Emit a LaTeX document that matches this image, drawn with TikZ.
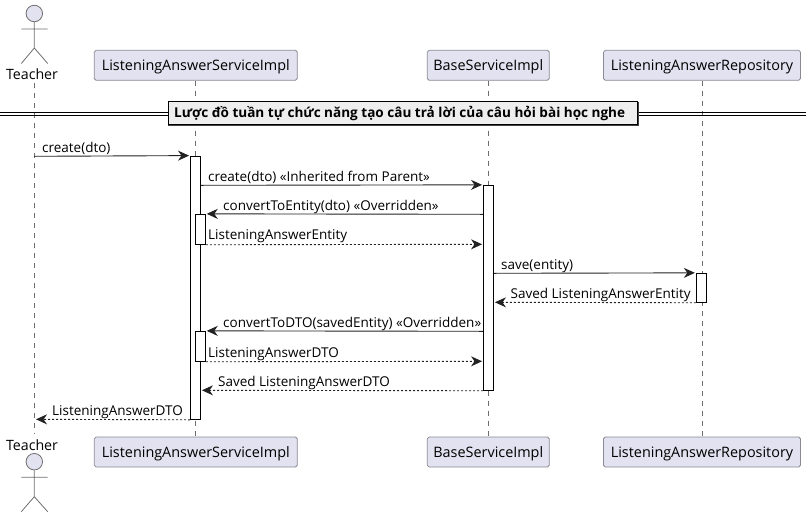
\documentclass[tikz,border=0pt]{standalone}
\usepackage{fontspec}
\setmainfont{Open Sans}
\usetikzlibrary{arrows.meta}
\definecolor{partfill}{HTML}{E2E2F0}
\definecolor{partline}{HTML}{8A8A94}
\definecolor{lifeline}{HTML}{6E6E6E}
\definecolor{titlefill}{HTML}{EEEEEE}
\definecolor{arrowink}{HTML}{222222}
\tikzset{
	part/.style={draw=partline, fill=partfill, rounded corners=1.8pt, line width=0.8pt, minimum height=30pt, inner sep=0pt, text height=11pt, text depth=0pt, text=black, font=\fontsize{14.4}{16}\selectfont},
	life/.style={draw=lifeline, line width=0.7pt, dash pattern=on 5pt off 5pt},
	stick/.style={draw=lifeline, line width=0.8pt},
	actorname/.style={inner sep=0pt, text height=11pt, text depth=0pt, text=black, font=\fontsize{14.2}{16}\selectfont},
	bar/.style={draw=black, fill=white, line width=0.9pt, minimum width=10pt, inner sep=0pt},
	msg/.style={draw=arrowink, line width=0.9pt, shorten >=1pt, -{Stealth[length=11pt,width=10pt,inset=3.5pt]}},
	reply/.style={msg, dash pattern=on 2pt off 2pt},
	msglabel/.style={anchor=base west, inner sep=0pt, text=black, font=\fontsize{13.5}{15}\selectfont},
}
\begin{document}
\begin{tikzpicture}[x=1pt,y=-1pt]
	\useasboundingbox (0,0) rectangle (811,517);

	% participants
	\node [part, minimum width=203pt] (serviceTop) at (195.8,65.3) {ListeningAnswerServiceImpl};
	\node [part, minimum width=122pt] (baseTop) at (488.3,65.3) {BaseServiceImpl};
	\node [part, minimum width=197pt] (repoTop) at (702,65.3) {ListeningAnswerRepository};
	\node [part, minimum width=203pt] (serviceBot) at (195.8,452) {ListeningAnswerServiceImpl};
	\node [part, minimum width=122pt] (baseBot) at (488.3,452) {BaseServiceImpl};
	\node [part, minimum width=197pt] (repoBot) at (702,452) {ListeningAnswerRepository};
	\node [actorname] (teacherTop) at (32,73.6) {Teacher};
	\node [actorname] (teacherBot) at (32,444.6) {Teacher};

	% lifelines
	\coordinate (lifeTop) at (34.3,83);
	\coordinate (lifeBot) at (34.3,434);
	\draw [life] (lifeTop) -- (lifeBot);
	\draw [life] (serviceTop) -- (serviceBot);
	\draw [life] (baseTop) -- (baseBot);
	\draw [life] (repoTop) -- (repoBot);

	% stick figures
	\node [circle, draw=lifeline, fill=partfill, line width=0.8pt, minimum size=16.5pt, inner sep=0pt] (headTop) at (34.3,13.5) {};
	\draw [stick] (headTop.south) -- (34.3,48) (21.3,29) -- (47.7,29) (21.3,63.5) -- (34.3,48) -- (47.7,63.5);
	\node [circle, draw=lifeline, fill=partfill, line width=0.8pt, minimum size=16.5pt, inner sep=0pt] (headBot) at (34.3,461.7) {};
	\draw [stick] (headBot.south) -- (34.3,496.7) (21.3,477.3) -- (47.7,477.3) (21.3,511.7) -- (34.3,496.7) -- (47.7,511.7);

	% divider
	\draw [black, line width=0.9pt] (0,112.6) -- (806,112.6) (0,115.8) -- (806,115.8);
	\draw [black!75, line width=1.6pt] (169.2,102.8) rectangle (638.5,125);
	\node [draw=black, fill=titlefill, line width=1.3pt, minimum width=469pt, minimum height=23pt, inner sep=0pt, text height=9.4pt, text depth=0pt, font=\bfseries\fontsize{13.55}{15}\selectfont] (title) at (402.7,113) {\hspace*{-6pt}Lược đồ tuần tự chức năng tạo câu trả lời của câu hỏi bài học nghe};

	% activations
	\node [bar, minimum height=263.3pt] (serviceBar) at (195.5,287.7) {};
	\node [bar, minimum height=205pt] (baseBar) at (488.5,287.8) {};
	\node [bar, minimum height=29pt] (repoBar) at (701.3,287.8) {};
	\node [bar, minimum height=30pt] (entityBar) at (200.3,229.3) {};
	\node [bar, minimum height=30pt] (dtoBar) at (200.3,346.3) {};

	% messages
	\coordinate (t1) at (34.3,156.3);
	\coordinate (t10) at (35,419.3);
	\draw [msg] (t1) -- (serviceBar.north west);
	\draw [msg] (serviceBar.east |- 0,185.3) -- (baseBar.north west);
	\draw [msg] (baseBar.west |- 0,214.3) -- (entityBar.north east);
	\draw [reply] (entityBar.south east) -- (baseBar.west |- 0,244.3);
	\draw [msg] (baseBar.east |- 0,273.3) -- (repoBar.north west);
	\draw [reply] (repoBar.south west) -- (baseBar.east |- 0,302.3);
	\draw [msg] (baseBar.west |- 0,331.3) -- (dtoBar.north east);
	\draw [reply] (dtoBar.south east) -- (baseBar.west |- 0,361.3);
	\draw [reply] (baseBar.south west) -- (serviceBar.east |- 0,390.3);
	\draw [reply] (serviceBar.south west) -- (t10);

	% message labels
	\node [msglabel] (l1) at (42,152) {create(dto)};
	\node [msglabel] (l2) at (208,181.3) {create(dto) «Inherited from Parent»};
	\node [msglabel] (l3) at (223,210.3) {convertToEntity(dto) «Overridden»};
	\node [msglabel] (l4) at (208,239.5) {ListeningAnswerEntity};
	\node [msglabel] (l5) at (501,269.3) {save(entity)};
	\node [msglabel] (l6) at (510.5,298.5) {Saved ListeningAnswerEntity};
	\node [msglabel] (l7) at (223,327.3) {convertToDTO(savedEntity) «Overridden»};
	\node [msglabel] (l8) at (208,357.3) {ListeningAnswerDTO};
	\node [msglabel] (l9) at (218,386.3) {Saved ListeningAnswerDTO};
	\node [msglabel] (l10) at (52,415.3) {ListeningAnswerDTO};
\end{tikzpicture}
\end{document}
